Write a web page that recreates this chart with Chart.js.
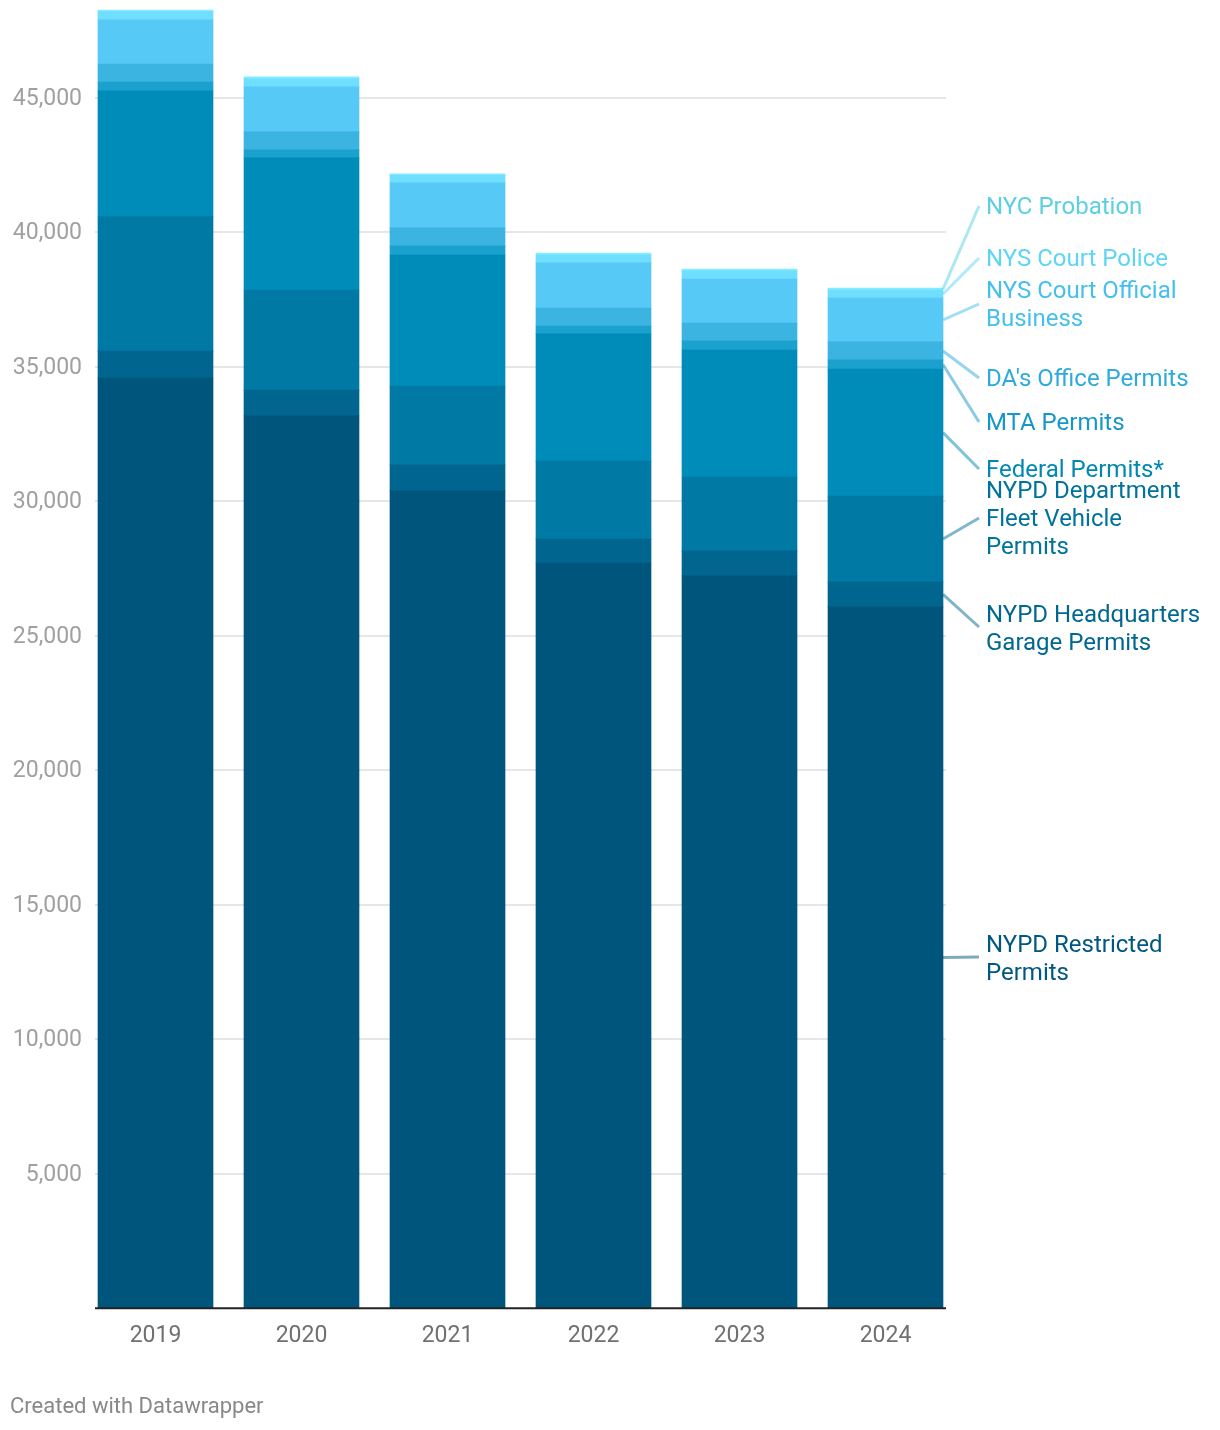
<!DOCTYPE html>
<html lang="en">
<head>
    <meta charset="UTF-8">
    <title>Parking Permits</title>
    <script src="https://cdn.jsdelivr.net/npm/chart.js"></script>
    <style>
        body {
            margin: 0;
            padding: 0;
            background: #fff;
            font-family: 'Roboto', sans-serif;
        }
        .wrap {
            position: relative;
            width: 1220px;
            height: 1430px;
        }
        .credit {
            position: absolute;
            left: 10px;
            top: 1393px;
            font-size: 22px;
            color: #888;
        }
    </style>
</head>
<body>
    <div class="wrap">
        <canvas id="permitChart" width="1220" height="1430"></canvas>
        <div class="credit">Created with Datawrapper</div>
    </div>

    <script>
        const years = ['2019', '2020', '2021', '2022', '2023', '2024'];

        const restricted = [34580, 33170, 30380, 27700, 27220, 26070];
        const hqGarage   = [1000, 960, 970, 890, 930, 930];
        const fleet      = [4990, 3720, 2930, 2900, 2750, 3190];
        const federal    = [4680, 4910, 4870, 4730, 4720, 4720];
        const mta        = [330, 300, 340, 290, 340, 340];
        const daOffice   = [670, 670, 670, 670, 660, 670];
        const courtOff   = [1640, 1670, 1670, 1680, 1640, 1630];
        const courtPol   = [310, 300, 280, 290, 300, 300];
        const probation  = [60, 70, 60, 70, 70, 70];

        const yTicks = [5000, 10000, 15000, 20000, 25000, 30000, 35000, 40000, 45000];

        // label text + where it sits on the right (y of first line)
        const series = [
            { name: ['NYPD Restricted', 'Permits'], data: restricted, color: '#00557c', text: '#005880', ly: 944, lineY: 957 },
            { name: ['NYPD Headquarters', 'Garage Permits'], data: hqGarage, color: '#00668f', text: '#006890', ly: 614, lineY: 627 },
            { name: ['NYPD Department', 'Fleet Vehicle', 'Permits'], data: fleet, color: '#0079a5', text: '#00729b', ly: 490, lineY: 518 },
            { name: ['Federal Permits*'], data: federal, color: '#008cb9', text: '#0088b3', ly: 469, lineY: 469 },
            { name: ['MTA Permits'], data: mta, color: '#1aa1ce', text: '#1598c8', ly: 422, lineY: 422 },
            { name: ["DA's Office Permits"], data: daOffice, color: '#3cb4e1', text: '#2eabdc', ly: 378, lineY: 378 },
            { name: ['NYS Court Official', 'Business'], data: courtOff, color: '#56c9f6', text: '#45c0ee', ly: 290, lineY: 304 },
            { name: ['NYS Court Police'], data: courtPol, color: '#6fdeff', text: '#5dd5f5', ly: 258, lineY: 258 },
            { name: ['NYC Probation'], data: probation, color: '#82ebff', text: '#5ccfe3', ly: 206, lineY: 206 }
        ];

        const gridPlugin = {
            id: 'grid',
            beforeDatasetsDraw(chart) {
                const ctx = chart.ctx;
                const y = chart.scales.y;
                ctx.save();
                ctx.strokeStyle = '#e6e6e6';
                ctx.lineWidth = 2;
                ctx.fillStyle = '#a0a0a0';
                ctx.font = '23px Roboto';
                ctx.textAlign = 'right';
                ctx.textBaseline = 'middle';
                yTicks.forEach(v => {
                    const py = Math.round(y.getPixelForValue(v));
                    ctx.beginPath();
                    ctx.moveTo(95, py);
                    ctx.lineTo(946, py);
                    ctx.stroke();
                    ctx.fillText(v.toLocaleString('en-US'), 82, py + 1);
                });
                ctx.restore();
            },
            afterDatasetsDraw(chart) {
                const ctx = chart.ctx;
                const y = chart.scales.y;
                ctx.save();
                // baseline
                ctx.strokeStyle = '#222';
                ctx.lineWidth = 2;
                const y0 = y.getPixelForValue(0);
                ctx.beginPath();
                ctx.moveTo(95, y0);
                ctx.lineTo(946, y0);
                ctx.stroke();

                // labels on the right, tied to the 2024 bar
                const last = years.length - 1;
                let base = 0;
                ctx.font = '24px Roboto';
                ctx.textBaseline = 'middle';
                ctx.textAlign = 'left';
                series.forEach((s, i) => {
                    const v = s.data[last];
                    const mid = y.getPixelForValue(base + v / 2);
                    base += v;
                    const bar = chart.getDatasetMeta(i).data[last];
                    const x0 = bar.x + bar.width / 2;
                    ctx.globalAlpha = 0.5;
                    ctx.strokeStyle = s.text;
                    ctx.lineWidth = 3;
                    ctx.beginPath();
                    ctx.moveTo(x0, mid);
                    ctx.lineTo(979, s.lineY);
                    ctx.stroke();
                    ctx.globalAlpha = 1;
                    ctx.fillStyle = s.text;
                    s.name.forEach((line, k) => {
                        ctx.fillText(line, 986, s.ly + 2 + k * 28);
                    });
                });
                ctx.restore();
            }
        };

        const ctx = document.getElementById('permitChart').getContext('2d');
        new Chart(ctx, {
            type: 'bar',
            data: {
                labels: years,
                datasets: series.map(s => ({
                    label: s.name.join(' '),
                    data: s.data,
                    backgroundColor: s.color,
                    borderWidth: 0,
                    barThickness: 115
                }))
            },
            options: {
                responsive: false,
                animation: false,
                devicePixelRatio: 1,
                layout: {
                    padding: { top: 3.5, right: 261.5, bottom: 0, left: 82.5 }
                },
                plugins: {
                    legend: { display: false },
                    tooltip: { enabled: false }
                },
                scales: {
                    x: {
                        stacked: true,
                        grid: { display: false, drawTicks: false },
                        border: { display: false },
                        ticks: {
                            color: '#707070',
                            font: { family: 'Roboto', size: 23 },
                            padding: 14
                        },
                        afterFit(scale) { scale.height = 121.8; }
                    },
                    y: {
                        display: false,
                        stacked: true,
                        min: 0,
                        max: 48500
                    }
                }
            },
            plugins: [gridPlugin]
        });
    </script>
</body>
</html>
